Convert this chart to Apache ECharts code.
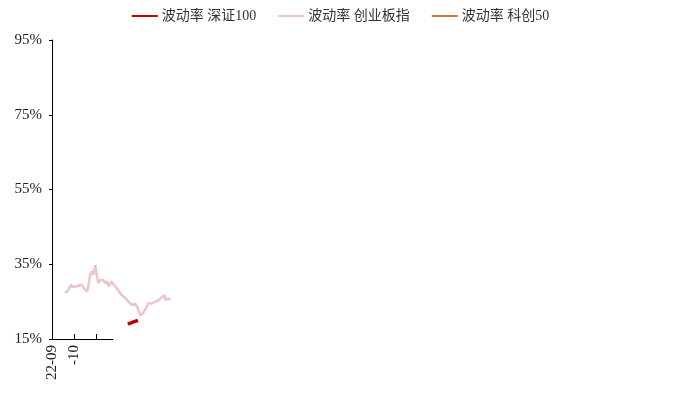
<!DOCTYPE html>
<html>
<head>
<meta charset="utf-8">
<script src="https://cdn.jsdelivr.net/npm/echarts@6/dist/echarts.min.js"></script>
<style>
  html, body { margin: 0; padding: 0; background: #fff; }
  #chart { width: 681px; height: 404px; }
</style>
</head>
<body>
<div id="chart"></div>
<script>
// x axis: days counted from the start date
const startDate = '2022-09-01'
const axisEndDate = '2022-11-23'
const xTickLabels = ['22-09', '-10', '']

const seriesNames = ['波动率 深证100', '波动率 创业板指', '波动率 科创50']

// 波动率 深证100
const sz100Dates = ['2022-12-13', '2022-12-15', '2022-12-17', '2022-12-20', '2022-12-23', '2022-12-27']
const sz100Vals = [19.1, 19.3, 19.25, 19.5, 19.7, 20.0]

// 波动率 创业板指
const cybDates = [
  '2022-09-19', '2022-09-21', '2022-09-23', '2022-09-27', '2022-09-29', '2022-10-05',
  '2022-10-11', '2022-10-16', '2022-10-19', '2022-10-23', '2022-10-25', '2022-10-27',
  '2022-10-30', '2022-10-31', '2022-11-03', '2022-11-06', '2022-11-08', '2022-11-10',
  '2022-11-12', '2022-11-15', '2022-11-17', '2022-11-19', '2022-11-21', '2022-11-24',
  '2022-11-26', '2022-11-28', '2022-11-30', '2022-12-05', '2022-12-10', '2022-12-14',
  '2022-12-19', '2022-12-23', '2022-12-26', '2022-12-30', '2023-01-03', '2023-01-08',
  '2023-01-10', '2023-01-15', '2023-01-20', '2023-01-24', '2023-01-29', '2023-02-01',
  '2023-02-02', '2023-02-06', '2023-02-09'
]
const cybVals = [
  27.3, 27.7, 28.1, 29.5, 28.9, 29.1,
  29.5, 28.2, 27.7, 32.2, 33.1, 32.2,
  34.8, 33.1, 29.9, 30.8, 30.4, 30.8,
  29.9, 30.4, 29.1, 29.1, 30.4, 29.5,
  29.9, 28.6, 28.1, 26.7, 25.9, 25.0,
  24.1, 24.5, 23.6, 21.4, 21.9, 23.6,
  24.5, 24.5, 25.0, 25.4, 26.3, 26.7,
  25.4, 25.9, 25.4
]

// 波动率 科创50 (no visible points)
const kc50Dates = []
const kc50Vals = []

const colors = ['#c00000', '#ecc6c6', '#c87838']

function dayOffset(d) {
  return Math.round((Date.parse(d) - Date.parse(startDate)) / 86400000)
}
function toPairs(dates, vals) {
  return dates.map(function(d, i) { return [dayOffset(d), vals[i]] })
}

const serifFont = "'Liberation Serif', 'Noto Sans CJK SC', serif"
const axisDays = dayOffset(axisEndDate)
const gridLeft = 52
const gridWidth = 61

const chart = echarts.init(document.getElementById('chart'))
chart.setOption({
  animation: false,
  color: colors,
  legend: {
    top: 4,
    left: 'center',
    icon: 'rect',
    itemWidth: 26,
    itemHeight: 2,
    itemGap: 22,
    textStyle: { fontFamily: serifFont, fontSize: 14, color: '#333', padding: [0, 0, 0, -1] },
    data: seriesNames
  },
  // grid 0 draws the visible axes, grid 1 (twice as wide, same scale) holds the lines
  grid: [
    { left: gridLeft, top: 40, bottom: 65, width: gridWidth },
    { left: gridLeft, top: 40, bottom: 65, width: gridWidth * 2 }
  ],
  xAxis: [
    {
      type: 'value',
      gridIndex: 0,
      min: 0,
      max: axisDays,
      interval: 30,
      splitLine: { show: false },
      axisLine: { show: true, lineStyle: { color: '#000', width: 1 } },
      axisTick: { show: true, inside: true, length: 5, lineStyle: { color: '#000' } },
      axisLabel: {
        rotate: 90,
        margin: 6,
        fontFamily: serifFont,
        fontSize: 15,
        color: '#222',
        showMaxLabel: false,
        formatter: function(v) {
          const i = Math.round(v / 30)
          return xTickLabels[i] !== undefined ? xTickLabels[i] : ''
        }
      }
    },
    {
      type: 'value',
      gridIndex: 1,
      min: 0,
      max: axisDays * 2,
      show: false
    }
  ],
  yAxis: [
    {
      type: 'value',
      gridIndex: 0,
      min: 15,
      max: 95,
      interval: 20,
      splitLine: { show: false },
      axisLine: { show: true, lineStyle: { color: '#000', width: 1 } },
      axisTick: { show: true, length: 3, lineStyle: { color: '#000' } },
      axisLabel: {
        margin: 10,
        fontFamily: serifFont,
        fontSize: 15,
        color: '#222',
        formatter: '{value}%'
      }
    },
    {
      type: 'value',
      gridIndex: 1,
      min: 15,
      max: 95,
      show: false
    }
  ],
  series: [
    {
      name: seriesNames[0],
      type: 'line',
      xAxisIndex: 1,
      yAxisIndex: 1,
      showSymbol: false,
      lineStyle: { width: 3.5 },
      data: toPairs(sz100Dates, sz100Vals)
    },
    {
      name: seriesNames[1],
      type: 'line',
      xAxisIndex: 1,
      yAxisIndex: 1,
      showSymbol: false,
      lineStyle: { width: 2.5 },
      data: toPairs(cybDates, cybVals)
    },
    {
      name: seriesNames[2],
      type: 'line',
      xAxisIndex: 1,
      yAxisIndex: 1,
      showSymbol: false,
      lineStyle: { width: 2 },
      data: toPairs(kc50Dates, kc50Vals)
    }
  ]
})
</script>
</body>
</html>
